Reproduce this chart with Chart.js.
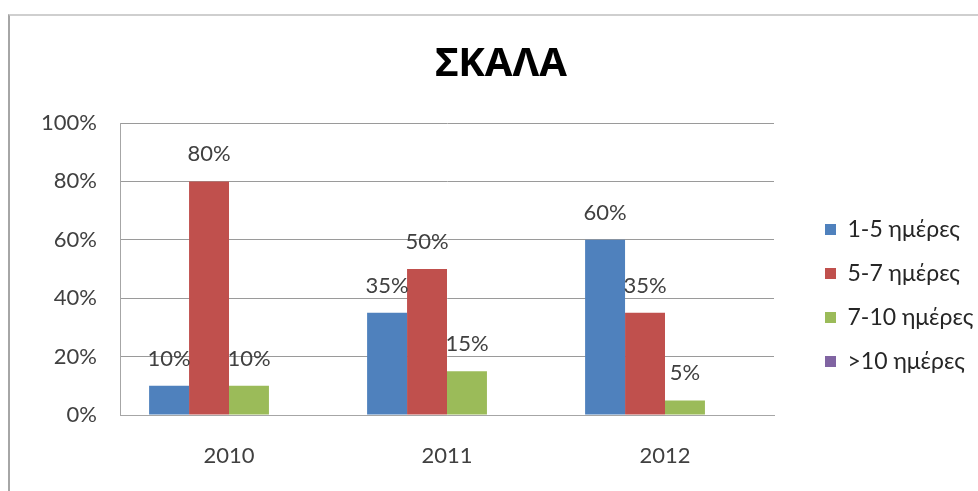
<!DOCTYPE html>
<html>
<head>
<meta charset="utf-8">
<script src="https://cdn.jsdelivr.net/npm/chart.js@4.4.0/dist/chart.umd.min.js"></script>
<style>
  body { margin: 0; background: #fff; }
  #frame {
    position: absolute; left: 8px; top: 14px;
    width: 970px; height: 477px;
    border-left: 2px solid #a6a6a6;
    border-top: 2px solid #cfcfcf;
  }
  #chart { display: block; }
</style>
</head>
<body>
<div id="frame"><canvas id="chart" width="970" height="477"></canvas></div>
<script>
// data
const years = ["2010", "2011", "2012"];
const seriesNames = ["1-5 ημέρες", "5-7 ημέρες", "7-10 ημέρες", ">10 ημέρες"];
const days1to5 = [10, 35, 60];
const days5to7 = [80, 50, 35];
const days7to10 = [10, 15, 5];
const daysOver10 = [0, 0, 0];
const yTicks = [0, 20, 40, 60, 80, 100];

const colors = ["#4F81BD", "#C0504D", "#9BBB59", "#8064A2"];
const textColor = "#404040";
const fontFamily = "Lato, 'Noto Sans', sans-serif";

// labels above bars (no datalabels plugin offline)
const valueLabels = {
  id: "valueLabels",
  afterDatasetsDraw(chart) {
    const ctx = chart.ctx;
    ctx.save();
    ctx.font = "22px " + fontFamily;
    ctx.fillStyle = textColor;
    ctx.textAlign = "center";
    ctx.textBaseline = "alphabetic";
    chart.data.datasets.forEach((ds, i) => {
      chart.getDatasetMeta(i).data.forEach((bar, j) => {
        const v = ds.data[j];
        if (!v) return;
        ctx.fillText(v + "%", bar.x, bar.y - 20);
      });
    });
    ctx.restore();
  }
};

// legend: fixed width, nudged right/down like the excel one
const legendPlace = {
  id: "legendPlace",
  beforeLayout(chart) {
    const lg = chart.legend;
    if (lg && !lg._patched) {
      const fit = lg.fit;
      lg.fit = function () {
        fit.call(this);
        this.width = 198;
      };
      lg._patched = true;
    }
  },
  afterLayout(chart) {
    const lg = chart.legend;
    lg.left += 30; lg.right += 30;
    lg.top += 41; lg.bottom += 41;
  }
};

const ctx = document.getElementById("chart").getContext("2d");

const chart = new Chart(ctx, {
  type: "bar",
  data: {
    labels: years,
    datasets: [
      { label: seriesNames[0], data: days1to5, backgroundColor: colors[0] },
      { label: seriesNames[1], data: days5to7, backgroundColor: colors[1] },
      { label: seriesNames[2], data: days7to10, backgroundColor: colors[2] },
      { label: seriesNames[3], data: daysOver10, backgroundColor: colors[3] }
    ]
  },
  options: {
    responsive: false,
    animation: false,
    datasets: {
      bar: { categoryPercentage: 0.733, barPercentage: 1 }
    },
    layout: { padding: { left: 20, right: 8, top: 0, bottom: 0 } },
    plugins: {
      tooltip: { enabled: false },
      title: {
        display: true,
        text: "ΣΚΑΛΑ",
        color: "#000",
        font: { family: "'Noto Sans', sans-serif", size: 40, weight: "bold" },
        padding: { top: 25, bottom: 34 }
      },
      legend: {
        position: "right",
        labels: {
          boxWidth: 11,
          boxHeight: 11,
          padding: 21,
          color: "#262626",
          font: { family: fontFamily, size: 23 }
        }
      }
    },
    scales: {
      x: {
        afterFit(scale) { scale.height = 78; },
        grid: { display: false, drawTicks: false },
        border: { color: "#a6a6a6" },
        ticks: { padding: 28, color: textColor, font: { family: fontFamily, size: 22 } }
      },
      y: {
        min: 0,
        max: 100,
        afterFit(scale) { scale.width = 90; },
        afterBuildTicks(scale) {
          scale.ticks = yTicks.map(v => ({ value: v }));
        },
        grid: { color: "#9a9a9a", drawTicks: false },
        border: { color: "#a6a6a6" },
        ticks: {
          padding: 23,
          color: textColor,
          font: { family: fontFamily, size: 22 },
          callback: v => v + "%"
        }
      }
    }
  },
  plugins: [valueLabels, legendPlace]
});
</script>
</body>
</html>
